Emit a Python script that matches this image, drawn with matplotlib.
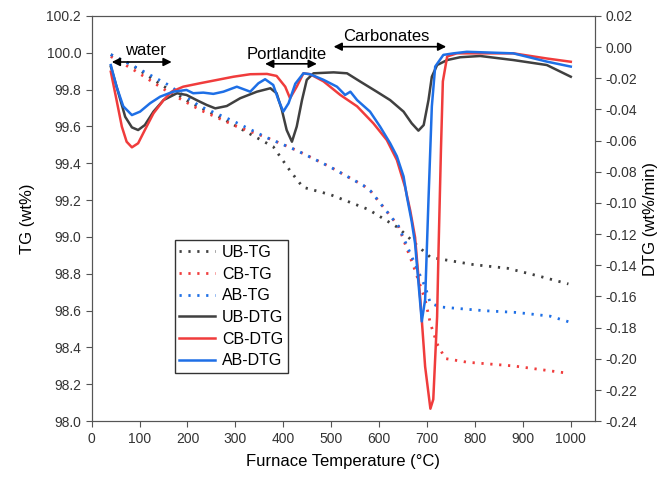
import matplotlib.pyplot as plt

plt.rcParams['font.family'] = ['Liberation Sans', 'DejaVu Sans']

# TG curves (wt%)
ub_tg_t = [40, 80, 143, 205, 275, 330, 379, 414, 441, 498, 577, 640, 681, 707, 728, 797, 868, 930, 995]
ub_tg = [99.99, 99.94, 99.83, 99.73, 99.64, 99.56, 99.49, 99.36, 99.27, 99.23, 99.15, 99.05, 98.95,
         98.89, 98.88, 98.85, 98.83, 98.79, 98.745]

cb_tg_t = [40, 86, 164, 226, 303, 365, 428, 498, 567, 582, 640, 672, 696, 707, 721, 738, 784, 880, 995]
cb_tg = [99.98, 99.91, 99.78, 99.69, 99.60, 99.54, 99.47, 99.38, 99.28, 99.25, 99.06, 98.84, 98.66,
         98.53, 98.42, 98.34, 98.32, 98.30, 98.26]

ab_tg_t = [40, 86, 157, 226, 295, 365, 428, 498, 567, 582, 640, 672, 696, 707, 728, 818, 888, 957, 995]
ab_tg = [99.99, 99.93, 99.83, 99.71, 99.63, 99.54, 99.47, 99.38, 99.28, 99.25, 99.06, 98.87, 98.73,
         98.64, 98.62, 98.60, 98.59, 98.57, 98.54]

# DTG curves (wt%/min)
ub_dtg_t = [40, 56, 70, 84, 97, 111, 129, 150, 178, 198, 219, 240, 258, 282, 310, 345, 373, 386,
            397, 407, 418, 428, 439, 449, 463, 505, 533, 560, 595, 623, 651, 668, 682, 693, 703,
            710, 721, 742, 769, 811, 880, 950, 1000]
ub_dtg = [-0.0125, -0.0296, -0.0447, -0.0515, -0.0532, -0.050, -0.0414, -0.034, -0.0296, -0.0307,
          -0.034, -0.0371, -0.0393, -0.0378, -0.0328, -0.0286, -0.0264, -0.0296, -0.0403, -0.0532,
          -0.0607, -0.051, -0.034, -0.021, -0.0168, -0.0162, -0.0168, -0.022, -0.0286, -0.034,
          -0.0414, -0.0489, -0.0536, -0.050, -0.034, -0.019, -0.0115, -0.0083, -0.0065, -0.0057,
          -0.0083, -0.0115, -0.019]

cb_dtg_t = [40, 52, 63, 73, 84, 97, 111, 129, 150, 167, 191, 226, 261, 296, 331, 366, 386, 404,
            414, 428, 442, 456, 484, 519, 554, 588, 616, 637, 654, 665, 675, 686, 696, 707, 713,
            721, 724, 729, 733, 742, 762, 880, 950, 1000]
cb_dtg = [-0.0158, -0.034, -0.051, -0.0607, -0.0643, -0.0617, -0.0532, -0.0425, -0.034, -0.0286,
          -0.0254, -0.0232, -0.0211, -0.019, -0.0174, -0.0172, -0.0185, -0.0254, -0.0328, -0.0254,
          -0.0168, -0.0174, -0.022, -0.0307, -0.038, -0.0489, -0.0596, -0.0724, -0.0896, -0.105,
          -0.122, -0.162, -0.205, -0.232, -0.226, -0.173, -0.130, -0.066, -0.022, -0.006, -0.004,
          -0.004, -0.0073, -0.0094]

ab_dtg_t = [40, 52, 66, 84, 101, 122, 143, 170, 198, 212, 233, 254, 275, 303, 331, 348, 362, 379,
            390, 400, 411, 425, 442, 456, 484, 512, 529, 540, 554, 581, 602, 623, 637, 651, 658,
            668, 675, 689, 696, 703, 710, 717, 734, 755, 783, 880, 950, 1000]
ab_dtg = [-0.0115, -0.0254, -0.038, -0.0436, -0.0414, -0.036, -0.0318, -0.0286, -0.0275, -0.0296,
          -0.0292, -0.030, -0.0286, -0.0254, -0.0286, -0.0232, -0.0206, -0.0243, -0.034, -0.0414,
          -0.036, -0.0235, -0.0168, -0.0174, -0.021, -0.0254, -0.0307, -0.0286, -0.034, -0.0414,
          -0.051, -0.0617, -0.070, -0.083, -0.096, -0.112, -0.126, -0.176, -0.162, -0.098, -0.038,
          -0.0125, -0.005, -0.004, -0.003, -0.004, -0.0093, -0.0125]

grey = '#404040'
red = '#f03c3c'
blue = '#1e6fe6'
axcol = '#555555'

fig = plt.figure(figsize=(6.69, 4.83), dpi=100)
ax = fig.add_axes([0.137, 0.128, 0.752, 0.839])
ax2 = ax.twinx()

dots = (0, (0.8, 2.4))
h1, = ax.plot(ub_tg_t, ub_tg, color=grey, lw=2, linestyle=dots, label='UB-TG')
h2, = ax.plot(cb_tg_t, cb_tg, color=red, lw=2, linestyle=dots, label='CB-TG')
h3, = ax.plot(ab_tg_t, ab_tg, color=blue, lw=2, linestyle=dots, label='AB-TG')

h4, = ax2.plot(ub_dtg_t, ub_dtg, color=grey, lw=1.8, label='UB-DTG')
h5, = ax2.plot(cb_dtg_t, cb_dtg, color=red, lw=1.8, label='CB-DTG')
h6, = ax2.plot(ab_dtg_t, ab_dtg, color=blue, lw=1.8, label='AB-DTG')

ax.set_xlim(0, 1050)
ax.set_ylim(98.0, 100.2)
ax2.set_ylim(-0.24, 0.02)
ax.set_xticks(range(0, 1001, 100))
ax.set_yticks([98.0 + 0.2 * i for i in range(12)])
ax.set_yticklabels(['%.1f' % (98.0 + 0.2 * i) for i in range(12)])
ax2.set_yticks([-0.24 + 0.02 * i for i in range(14)])
ax2.set_yticklabels(['%.2f' % (-0.24 + 0.02 * i) for i in range(14)])

ax.set_xlabel('Furnace Temperature (°C)', fontsize=12, labelpad=6)
ax.set_ylabel('TG (wt%)', fontsize=12, labelpad=8)
ax2.set_ylabel('DTG (wt%/min)', fontsize=12, labelpad=4)

for a in (ax, ax2):
    for s in a.spines.values():
        s.set_color(axcol)
    a.tick_params(colors=axcol, labelcolor='#333333', labelsize=10, direction='out', length=4)

# annotations
arr = dict(arrowstyle='<|-|>', color='black', lw=1.2, mutation_scale=12, shrinkA=0, shrinkB=0)
ax.annotate('', xy=(42, 99.95), xytext=(167, 99.95), arrowprops=arr)
ax.text(112, 100.01, 'water', ha='center', va='center', fontsize=12)
ax.annotate('', xy=(362, 99.94), xytext=(470, 99.94), arrowprops=arr)
ax.text(407, 99.99, 'Portlandite', ha='center', va='center', fontsize=12)
ax.annotate('', xy=(505, 100.033), xytext=(740, 100.033), arrowprops=arr)
ax.text(616, 100.09, 'Carbonates', ha='center', va='center', fontsize=12)

leg = ax2.legend(handles=[h1, h2, h3, h4, h5, h6], loc='upper left', bbox_to_anchor=(0.165, 0.447),
                 fontsize=11.5, frameon=True, fancybox=False, edgecolor='black',
                 handlelength=2.2, labelspacing=0.42, borderpad=0.3, handletextpad=0.45,
                 borderaxespad=0)
leg.get_frame().set_linewidth(1.0)

fig.savefig('out.png', dpi=100)
